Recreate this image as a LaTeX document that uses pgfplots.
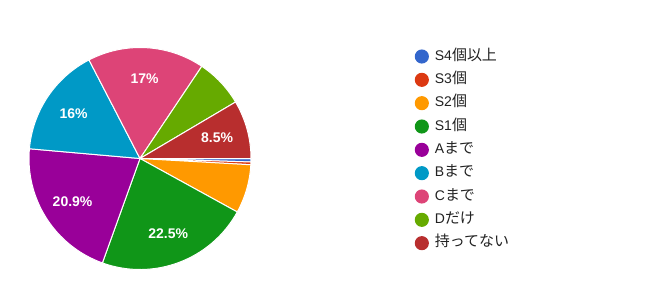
\documentclass[border=0pt]{standalone}
\usepackage{pgfplots}
\pgfplotsset{compat=1.18}
\usepackage{pgfplotstable}
\usepackage{fontspec}
\setmainfont{Liberation Sans}
\newfontfamily\jp[Scale=1.07]{Noto Sans CJK JP}
\definecolor{cA}{HTML}{3366CC}
\definecolor{cB}{HTML}{DC3912}
\definecolor{cC}{HTML}{FF9900}
\definecolor{cD}{HTML}{109618}
\definecolor{cE}{HTML}{990099}
\definecolor{cF}{HTML}{0099C6}
\definecolor{cG}{HTML}{DD4477}
\definecolor{cH}{HTML}{66AA00}
\definecolor{cI}{HTML}{B82E2E}
\definecolor{legtext}{HTML}{222222}

% share (%) of each answer, clockwise from 3 o'clock
\pgfplotstableread{
value color show
0.5  cA 0
0.4  cB 0
7.1  cC 0
22.5 cD 1
20.9 cE 1
16   cF 1
17   cG 1
7.1  cH 0
8.5  cI 1
}\piedata

\begin{document}
\begin{tikzpicture}
\begin{axis}[
  hide axis, scale only axis,
  width=489pt, height=225.75pt,
  xmin=0, xmax=652, ymin=0, ymax=301,
  clip=false,
  legend cell align=left,
  legend image code/.code={\fill[#1, draw=none] (5.3pt,0pt) circle[radius=5.3pt];},
  legend style={at={(axis cs:410.5,254.5)}, anchor=north west, draw=none, fill=none,
    font=\fontsize{10.5}{12}\selectfont, text=legtext,
    row sep=6.9pt, column sep=4.5pt,
    nodes={inner sep=0pt, text height=7.5pt, text depth=2pt}},
]
\path (axis cs:0,0) rectangle (axis cs:652,301);

\pgfplotstablegetrowsof{\piedata}
\pgfmathtruncatemacro\nrows{\pgfplotsretval-1}
\def\pcum{0}
\pgfplotsforeachungrouped \i in {0,...,\nrows}{%
  \pgfplotstablegetelem{\i}{value}\of\piedata \let\pval\pgfplotsretval
  \pgfplotstablegetelem{\i}{color}\of\piedata \let\pcol\pgfplotsretval
  \pgfmathsetmacro\pa{-\pcum*3.6}%
  \pgfmathsetmacro\pb{-(\pcum+\pval)*3.6}%
  \edef\pcmd{\noexpand\fill[fill=\pcol, draw=white, line width=0.75pt, line join=round]
    (axis cs:140,142.5) -- ++(\pa:83.25pt) arc[start angle=\pa, end angle=\pb, radius=83.25pt] -- cycle;}%
  \pcmd
  \pgfmathsetmacro\pcum{\pcum+\pval}%
}
\def\pcum{0}
\pgfplotsforeachungrouped \i in {0,...,\nrows}{%
  \pgfplotstablegetelem{\i}{value}\of\piedata \let\pval\pgfplotsretval
  \pgfplotstablegetelem{\i}{show}\of\piedata \let\pshow\pgfplotsretval
  \pgfmathsetmacro\pm{-(\pcum+\pval/2)*3.6}%
  \pgfmathsetmacro\px{140+80*cos(\pm)}%
  \pgfmathsetmacro\py{142.5+80*sin(\pm)}%
  \ifnum\pshow=1
    \edef\pcmd{\noexpand\node[text=white, inner sep=0pt, font=\noexpand\bfseries\noexpand\fontsize{10.5}{13}\noexpand\selectfont]
      at (axis cs:\px,\py) {\pval\noexpand\%};}%
    \pcmd
  \fi
  \pgfmathsetmacro\pcum{\pcum+\pval}%
}

\addlegendimage{fill=cA}\addlegendentry{S4\jp{個以上}}
\addlegendimage{fill=cB}\addlegendentry{S3\jp{個}}
\addlegendimage{fill=cC}\addlegendentry{S2\jp{個}}
\addlegendimage{fill=cD}\addlegendentry{S1\jp{個}}
\addlegendimage{fill=cE}\addlegendentry{A\jp{まで}}
\addlegendimage{fill=cF}\addlegendentry{B\jp{まで}}
\addlegendimage{fill=cG}\addlegendentry{C\jp{まで}}
\addlegendimage{fill=cH}\addlegendentry{D\jp{だけ}}
\addlegendimage{fill=cI}\addlegendentry{\jp{持ってない}}
\end{axis}
\end{tikzpicture}
\end{document}
